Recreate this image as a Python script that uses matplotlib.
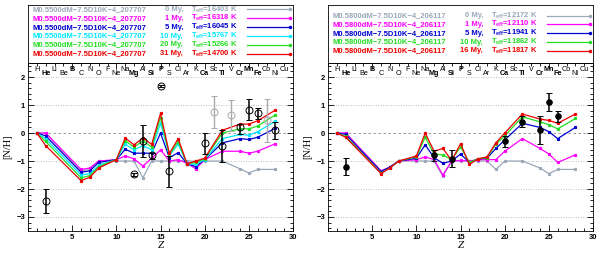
import matplotlib.pyplot as plt
from matplotlib.ticker import MultipleLocator
import numpy as np

plt.rcParams['font.family'] = ['Liberation Sans', 'DejaVu Sans']
plt.rcParams['mathtext.fontset'] = 'custom'
plt.rcParams['mathtext.rm'] = 'Liberation Sans:bold'
plt.rcParams['mathtext.it'] = 'Liberation Sans:bold'
plt.rcParams['mathtext.bf'] = 'Liberation Sans:bold'

# atomic numbers where the models are sampled
Z_mod = [1, 2, 6, 7, 8, 10, 11, 12, 13, 14, 15, 16, 17, 18, 19, 20, 22, 24, 25, 26, 28]

# left star: M0.5500dM-7.5D10K-4_207707
left_names = ["M0.5500dM\u22127.5D10K\u22124_207707"] * 6
left_ages = ["0 My,", "1 My,", "5 My,", "10 My,", "20 My,", "31 My,"]
left_teff = [16403, 16318, 16045, 15767, 15266, 14700]
left_models = [
    [0, 0.0, -1.35, -1.3, -1.0, -1.0, -1.0, -1.0, -1.6, -1.0, -1.0, -1.0, -1.0, -1.0, -1.0, -1.0, -1.0, -1.28, -1.43, -1.3, -1.3],
    [0, 0.0, -1.3, -1.25, -1.0, -0.95, -0.82, -0.92, -1.18, -0.9, -0.6, -1.0, -0.95, -1.08, -1.28, -0.95, -0.65, -0.65, -0.72, -0.65, -0.38],
    [0, -0.1, -1.4, -1.35, -1.05, -0.95, -0.58, -0.72, -0.72, -0.72, 0.0, -0.88, -0.7, -1.1, -1.2, -0.95, -0.35, -0.2, -0.23, -0.15, 0.17],
    [0, -0.2, -1.5, -1.45, -1.15, -0.95, -0.4, -0.6, -0.45, -0.6, 0.35, -0.8, -0.4, -1.1, -1.12, -0.95, -0.2, -0.05, -0.08, 0.05, 0.42],
    [0, -0.3, -1.6, -1.52, -1.2, -0.95, -0.28, -0.5, -0.28, -0.5, 0.55, -0.78, -0.3, -1.1, -1.05, -0.92, 0.0, 0.15, 0.15, 0.25, 0.65],
    [0, -0.45, -1.7, -1.58, -1.25, -0.95, -0.18, -0.42, -0.18, -0.4, 0.7, -0.73, -0.2, -1.1, -1.0, -0.9, 0.1, 0.32, 0.32, 0.44, 0.82],
]
left_colors = ["#9aa8b8", "#ff00ff", "#0000d0", "#00e8ff", "#22dd22", "#ee0000"]

# left star: observed abundances (black) and uncertain ones (grey)
left_obs_Z = [2, 12, 13, 14, 15, 16, 20, 22, 24, 25, 26, 28]
left_obs_v = [-2.42, -1.48, -0.3, -0.8, 1.68, -1.37, -0.37, -0.48, 0.23, 0.83, 0.7, 0.1]
left_obs_lo = [0.42, 0.05, 0.55, 0.12, 0.05, 0.56, 0.38, 0.57, 0.25, 0.38, 0.2, 0.32]
left_obs_hi = [0.42, 0.05, 0.57, 0.08, 0.05, 0.56, 0.37, 0.58, 0.1, 0.39, 0.18, 0.3]
left_grey_Z = [21, 23, 27]
left_grey_v = [0.75, 0.63, 0.45]
left_grey_err = [0.58, 0.55, 0.77]

# right star: M0.5800dM-7.5D10K-4_206117
right_names = ["M0.5800dM\u22127.5D10K\u22124_206117"] * 5
right_ages = ["0 My,", "1 My,", "5 My,", "10 My,", "16 My,"]
right_teff = [12172, 12110, 11941, 11862, 11817]
right_models = [
    [0, 0.0, -1.35, -1.22, -1.0, -1.0, -1.0, -1.0, -1.55, -1.0, -1.0, -1.0, -1.0, -1.0, -1.3, -1.0, -1.0, -1.25, -1.45, -1.3, -1.3],
    [0, 0.0, -1.35, -1.22, -1.0, -0.95, -0.85, -0.95, -1.5, -1.0, -0.98, -1.0, -0.95, -0.95, -0.95, -0.65, -0.2, -0.55, -0.75, -1.05, -0.78],
    [0, -0.05, -1.38, -1.22, -1.0, -0.9, -0.42, -0.88, -1.08, -1.0, -0.75, -1.05, -0.92, -0.9, -0.55, -0.25, 0.35, 0.2, 0.05, -0.2, 0.2],
    [0, -0.12, -1.43, -1.25, -1.0, -0.85, -0.15, -0.75, -0.78, -0.95, -0.5, -1.05, -0.92, -0.88, -0.4, -0.1, 0.58, 0.4, 0.3, 0.15, 0.52],
    [0, -0.15, -1.45, -1.25, -1.0, -0.82, 0.0, -0.65, -0.55, -0.98, -0.38, -1.12, -0.92, -0.85, -0.35, 0.0, 0.68, 0.5, 0.45, 0.35, 0.68],
]
right_colors = ["#9aa8b8", "#ff00ff", "#0000d0", "#22dd22", "#ee0000"]

right_obs_Z = [2, 12, 14, 20, 22, 24, 25, 26]
right_obs_v = [-1.2, -0.8, -0.92, -0.3, 0.4, 0.1, 1.1, 0.6]
right_obs_err = [0.3, 0.2, 0.3, 0.2, 0.2, 0.5, 0.32, 0.2]

elements = ["H", "He", "Li", "Be", "B", "C", "N", "O", "F", "Ne", "Na", "Mg", "Al", "Si",
            "P", "S", "Cl", "Ar", "K", "Ca", "Sc", "Ti", "V", "Cr", "Mn", "Fe", "Co", "Ni", "Cu"]
bold_elements = ["He", "B", "Mg", "Si", "P", "Ca", "Ti", "Cr", "Mn", "Fe"]


def draw_legend(ax, names, ages, teffs, colors):
    ax.set_xlim(0, 1)
    ax.set_ylim(0, 1)
    ax.set_xticks([])
    ax.set_yticks([])
    n = len(names)
    top = 0.925 if n == 6 else 0.82
    step = 0.153
    for i in range(n):
        y = top - i * step
        c = colors[i]
        ax.text(0.017, y, names[i], color=c, fontsize=5.5, fontweight='bold', va='center')
        ax.text(0.585, y, ages[i], color=c, fontsize=5.5, fontweight='bold', va='center',
                ha='right')
        ax.text(0.615, y, r"$\mathbf{T_{eff}}$=%d K" % teffs[i], color=c, fontsize=5.5,
                fontweight='bold', va='center')
        ax.plot([0.825, 0.99], [y, y], color=c, lw=0.9, marker='o', ms=1.5,
                markevery=[1])
    for s in ax.spines.values():
        s.set_linewidth(0.6)


def draw_panel(ax, models, colors):
    for yv in [-3, -2, -1, 1, 2]:
        ax.axhline(yv, color='#aaaaaa', lw=0.6, ls=(0, (1, 2)), zorder=0)
    ax.axhline(0, color='#888888', lw=0.6, ls=(0, (3, 3)), zorder=0)
    for vals, c in zip(models, colors):
        ax.plot(Z_mod, vals, color=c, lw=0.9, marker='s', ms=1.3, zorder=2)
    for i, el in enumerate(elements):
        z = i + 1
        yl = 2.28 if z % 2 == 1 else 2.13
        ax.text(z, yl, el, fontsize=5.2, ha='center', va='center',
                fontweight='bold' if el in bold_elements else 'normal')
    ax.set_xlim(0, 30)
    ax.set_ylim(-3.5, 2.5)
    ax.xaxis.set_major_locator(MultipleLocator(5))
    ax.xaxis.set_minor_locator(MultipleLocator(1))
    ax.yaxis.set_major_locator(MultipleLocator(1))
    ax.yaxis.set_minor_locator(MultipleLocator(0.2))
    ax.tick_params(which='both', direction='in', top=True, right=True, labelsize=5.5,
                   width=0.6, pad=2)
    ax.tick_params(which='major', length=4)
    ax.tick_params(which='minor', length=2)
    ax.set_xticks([5, 10, 15, 20, 25, 30])
    ax.set_yticks([-3, -2, -1, 0, 1, 2])
    ax.set_yticklabels(['\u22123', '\u22122', '\u22121', '0', '1', '2'])
    for lab in ax.get_xticklabels() + ax.get_yticklabels():
        lab.set_fontweight('bold')
    ax.set_xlabel("Z", fontsize=8, fontstyle='italic', labelpad=0, family='Liberation Serif')
    ax.set_ylabel("[N/H]", fontsize=7.5, labelpad=3, family='Liberation Serif')
    for s in ax.spines.values():
        s.set_linewidth(0.6)


fig = plt.figure(figsize=(6.0, 2.54), dpi=100)

axL = fig.add_axes([0.0467, 0.0906, 0.4417, 0.661])
legL = fig.add_axes([0.0467, 0.752, 0.4417, 0.228])
axR = fig.add_axes([0.5467, 0.0906, 0.4417, 0.661])
legR = fig.add_axes([0.5467, 0.752, 0.4417, 0.228])

draw_panel(axL, left_models, left_colors)
draw_legend(legL, left_names, left_ages, left_teff, left_colors)
axL.errorbar(left_grey_Z, left_grey_v, yerr=left_grey_err, fmt='o', mfc='none',
             mec='#aaaaaa', ecolor='#aaaaaa', ms=5, mew=0.7, elinewidth=1.0, capsize=2.5,
             capthick=1.0, zorder=3)
axL.errorbar(left_obs_Z, left_obs_v, yerr=[left_obs_lo, left_obs_hi], fmt='o', mfc='none',
             mec='black', ecolor='black', ms=5, mew=0.7, elinewidth=1.1, capsize=2.5,
             capthick=1.1, zorder=4)

draw_panel(axR, right_models, right_colors)
draw_legend(legR, right_names, right_ages, right_teff, right_colors)
axR.errorbar(right_obs_Z, right_obs_v, yerr=right_obs_err, fmt='o', mfc='black',
             mec='black', ecolor='black', ms=4, mew=0.7, elinewidth=1.1, capsize=2.5,
             capthick=1.1, zorder=4)

fig.savefig("out.png", dpi=100)
